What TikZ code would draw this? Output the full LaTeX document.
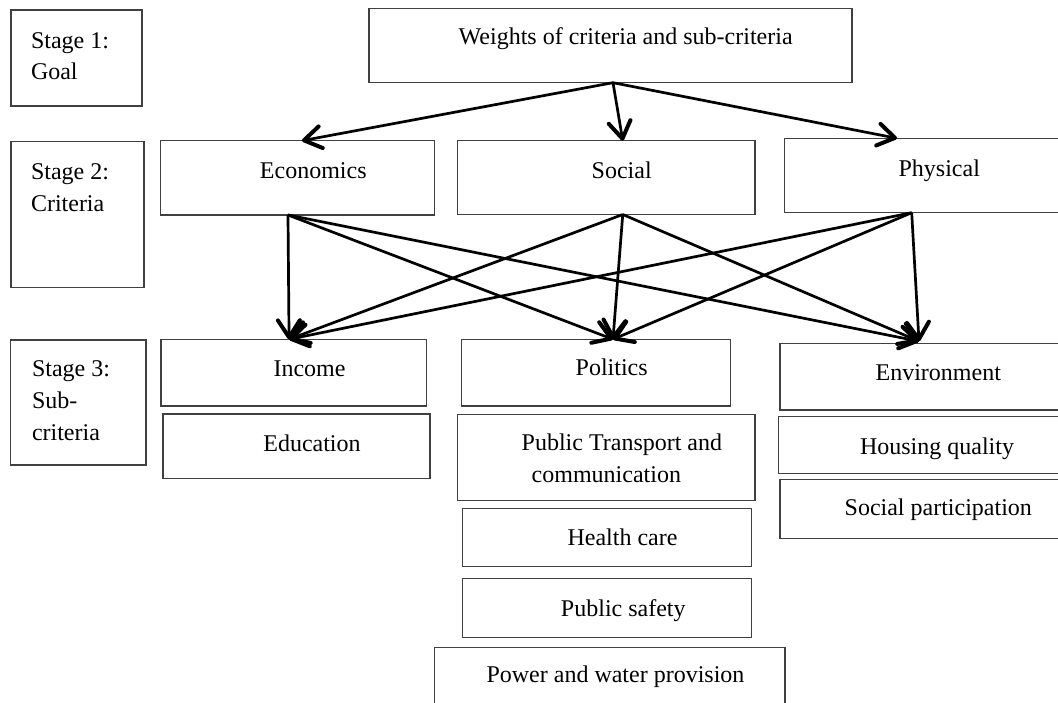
\documentclass[tikz,border=0pt]{standalone}
\usepackage{fontspec}
\setmainfont{Liberation Serif}
\usetikzlibrary{arrows.meta,calc}
\newcommand\mybox[5]{\node[box,minimum width={#4-#2},minimum height={#5-#3}] (#1) at ({(#2+#4)/2},{(#3+#5)/2}) {};}
\begin{document}
\begin{tikzpicture}[x=1pt,y=-1pt,
  box/.style={draw=black!75,line width=1.2pt,inner sep=0pt,outer sep=0pt},
  lbl/.style={inner sep=0pt,outer sep=0pt,font=\fontsize{24}{31.7}\selectfont},
  arr/.style={line width=2.7pt,-{Straight Barb[length=17pt,width=22pt,line width=4pt,round]}}]
\useasboundingbox (0,0) rectangle (1058,703);
\clip (0,0) rectangle (1058,703);
\fill[white] (0,0) rectangle (1058,703);
% boxes
\mybox{S1}{11}{10}{142}{106}
\mybox{W}{369}{8.3}{852}{82.7}
\mybox{S2}{11}{141.7}{144}{287.3}
\mybox{Econ}{160.3}{140.7}{434.3}{215}
\mybox{Soc}{457.7}{140.7}{755}{214.5}
\mybox{Phys}{784.3}{138.3}{1075}{212.7}
\mybox{S3}{10.5}{340}{146}{465}
\mybox{Inc}{161}{339.3}{426.7}{406}
\mybox{Edu}{163}{414}{430}{478.3}
\mybox{Pol}{461.7}{339.3}{730.7}{406}
\mybox{PT}{457.7}{414.3}{755}{500.7}
\mybox{HC}{462.7}{508.3}{751.7}{566.7}
\mybox{PS}{462.7}{578.7}{751.7}{637.3}
\mybox{PW}{434.3}{647.3}{785}{720}
\mybox{Env}{780}{343.3}{1075}{410}
\mybox{HQ}{778.3}{416.7}{1075}{473.3}
\mybox{SP}{780}{479.3}{1075}{538.3}
% texts
\node[lbl,anchor=base west] (tS1) at (31,48.3) {\begin{tabular}[t]{@{}l@{}}Stage 1:\\Goal\end{tabular}};
\node[lbl,anchor=base west] (tS2) at (31,180) {\begin{tabular}[t]{@{}l@{}}Stage 2:\\Criteria\end{tabular}};
\node[lbl,anchor=base west] (tS3) at (32,376.7) {\begin{tabular}[t]{@{}l@{}}Stage 3:\\Sub-\\criteria\end{tabular}};
\node[lbl,anchor=base] (tW) at (625.7,45) {Weights of criteria and sub-criteria};
\node[lbl,anchor=base] (tEcon) at (313.3,178.3) {Economics};
\node[lbl,anchor=base] (tSoc) at (621.7,178.3) {Social};
\node[lbl,anchor=base] (tPhys) at (939.3,176.7) {Physical};
\node[lbl,anchor=base] (tInc) at (309.5,376.7) {Income};
\node[lbl,anchor=base] (tEdu) at (312,451) {Education};
\node[lbl,anchor=base] (tPol) at (611.7,375.7) {Politics};
\node[lbl,anchor=base west] (tPT) at (521.7,450.7) {\begin{tabular}[t]{@{}l@{}}Public Transport and\\\hspace*{10pt}communication\end{tabular}};
\node[lbl,anchor=base] (tHC) at (622.5,545) {Health care};
\node[lbl,anchor=base] (tPS) at (623.3,616) {Public safety};
\node[lbl,anchor=base] (tPW) at (615.5,682.7) {Power and water provision};
\node[lbl,anchor=base] (tEnv) at (938.3,380.7) {Environment};
\node[lbl,anchor=base] (tHQ) at (937,454) {Housing quality};
\node[lbl,anchor=base] (tSP) at (938.3,515.7) {Social participation};
% connectors
\coordinate (wo) at ([xshift=2.5pt]W.south);
\coordinate (eo) at ([xshift=-9.3pt]Econ.south);
\coordinate (so) at ([xshift=16.4pt]Soc.south);
\coordinate (po) at ([xshift=127.4pt]Phys.south west);
\coordinate (ii) at ([xshift=-4.8pt]Inc.north);
\coordinate (pi) at ([xshift=16.8pt]Pol.north);
\coordinate (ei) at ([xshift=139pt,yshift=2pt]Env.north west);
\draw[arr] (wo) -- ([xshift=4.7pt]Econ.north);
\draw[arr] (wo) -- ([xshift=16.4pt]Soc.north);
\draw[arr] (wo) -- ([xshift=112.7pt]Phys.north west);
\draw[arr] (eo) -- (ii);
\draw[arr] (eo) -- (pi);
\draw[arr] (eo) -- (ei);
\draw[arr] (so) -- (ii);
\draw[arr] (so) -- (pi);
\draw[arr] (so) -- (ei);
\draw[arr] (po) -- (ii);
\draw[arr] (po) -- (pi);
\draw[arr] (po) -- (ei);
\end{tikzpicture}
\end{document}
